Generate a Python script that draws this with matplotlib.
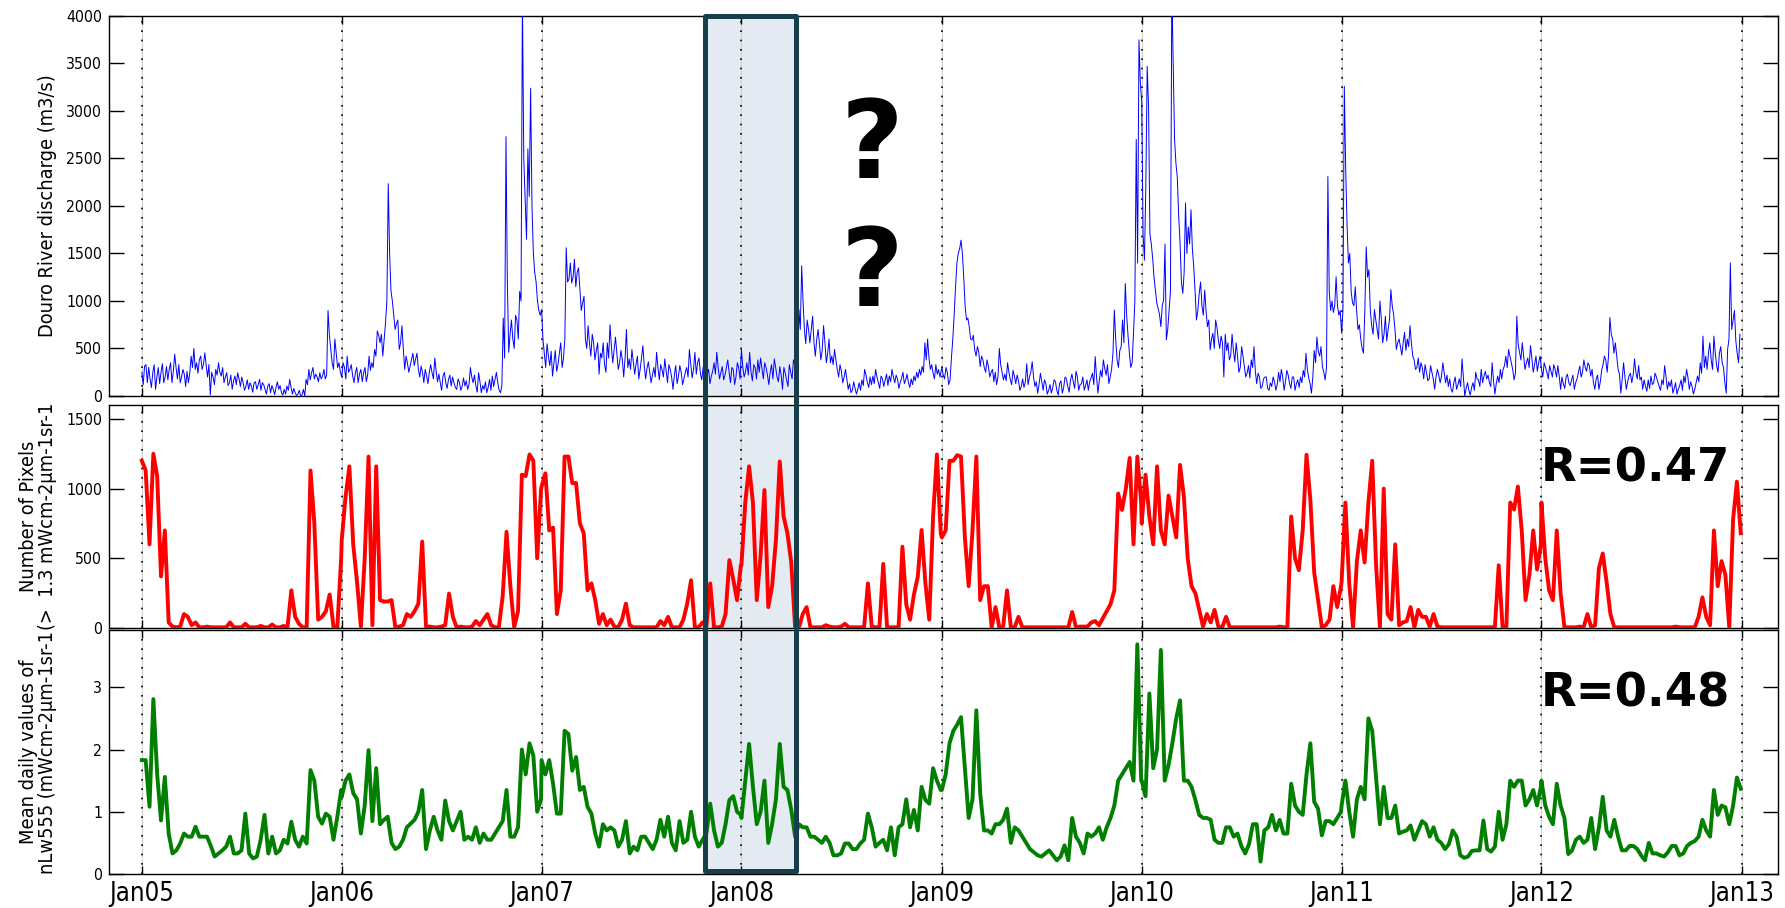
import matplotlib
matplotlib.use('Agg')
import matplotlib.pyplot as plt
import matplotlib.dates as mdates
from matplotlib import font_manager as fm
from matplotlib.patches import Rectangle
from matplotlib.transforms import blended_transform_factory
import numpy as np
import pandas as pd

# pick a narrow sans for the axis texts, if one is installed
entries = fm.fontManager.ttflist
names = {f.name for f in entries}
label_family, label_stretch, k = 'Liberation Sans', 'normal', 0.86
if 'Liberation Sans Narrow' in names:
    label_family, label_stretch, k = 'Liberation Sans Narrow', 'normal', 1.0
elif any(f.name == 'DejaVu Sans' and 'condensed' in str(f.stretch) for f in entries):
    label_family, label_stretch, k = 'DejaVu Sans', 'condensed', 0.84
elif 'DejaVu Sans Condensed' in names:
    label_family, label_stretch, k = 'DejaVu Sans Condensed', 'normal', 0.84
plt.rcParams['font.family'] = [label_family, 'DejaVu Sans']
plt.rcParams['font.stretch'] = label_stretch

years = [2005, 2006, 2007, 2008, 2009, 2010, 2011, 2012]

# Douro river discharge (m3/s), one value every 5 days starting each 1 Jan
q2005 = [250, 315, 140, 180, 250, 70, 300, 250, 140, 310, 280, 140, 440, 180, 140, 280, 100, 140, 420, 500,
         350, 380, 280, 455, 200, 10, 200, 280, 350, 210, 140, 245, 140, 70, 210, 245, 100, 140, 100, 70,
         105, 140, 70, 175, 140, 70, 105, 35, 70, 90, 70, 35, 70, 105, 175, 20, 35, 20, 0, 70,
         175, 280, 245, 180, 200, 245, 210, 180, 900, 490, 280, 455, 350]
q2006 = [200, 300, 420, 280, 210, 245, 140, 280, 245, 150, 420, 350, 490, 685, 560, 420, 770, 2235, 1105, 850,
         760, 490, 740, 280, 350, 315, 450, 390, 280, 315, 140, 210, 250, 245, 400, 150, 140, 210, 140, 175,
         105, 140, 70, 140, 105, 105, 70, 300, 140, 105, 245, 35, 70, 35, 175, 210, 175, 140, 35, 820,
         2730, 460, 800, 500, 800, 1100, 4200, 2070, 2600, 3240, 1500, 1200, 900]
q2007 = [910, 450, 550, 320, 210, 480, 330, 560, 400, 1560, 1230, 1190, 1440, 1300, 1120, 980, 600, 740,
         420, 560, 480, 230, 400, 330, 560, 750, 350, 620, 280, 480, 200, 700, 390, 490, 230, 420,
         280, 530, 180, 360, 140, 300, 460, 170, 280, 390, 140, 280, 70, 320, 210, 250, 180, 300,
         490, 190, 460, 350, 240, 300, 140, 280, 210, 350, 460, 180, 310, 220, 380, 140, 280, 200, 300]
q2008 = [490, 200, 350, 460, 160, 300, 380, 400, 180, 300, 120, 330, 390, 200, 310, 70, 240, 100,
         250, 380, 180, 910, 1370, 700, 800, 560, 840, 420, 700, 380, 740, 350, 600, 420, 490, 280,
         330, 140, 280, 70, 35, 150, 20, 140, 170, 280, 140, 200, 210, 280, 140, 210, 100, 230,
         210, 280, 140, 180, 140, 250, 170, 140, 180, 210, 250, 280, 310, 560, 600, 280, 240, 330, 280]
q2009 = [300, 180, 250, 170, 600, 1150, 1500, 1640, 1250, 800, 730, 590, 485, 520, 310, 380, 250, 310, 250, 150,
         120, 500, 250, 230, 350, 170, 270, 130, 160, 100, 90, 340, 200, 360, 100, 30, 240, 60, 130, 60,
         30, 170, 60, 130, 30, 200, 100, 170, 150, 260, 60, 130, 60, 170, 150, 240, 415, 30, 270, 380,
         220, 130, 280, 905, 380, 480, 800, 1185, 640, 300, 660, 2700, 3750]
q2010 = [3100, 1430, 3470, 1710, 1450, 1115, 920, 730, 1010, 590, 900, 4300, 2700, 2300, 1610, 1080, 2030, 1780,
         1960, 1360, 800, 1080, 950, 1115, 730, 485, 660, 800, 590, 630, 200, 480, 380, 650, 360, 420,
         300, 420, 200, 320, 380, 520, 130, 200, 100, 200, 80, 140, 200, 60, 250, 280, 60, 270,
         130, 200, 60, 170, 200, 270, 450, 190, 30, 480, 620, 420, 310, 170, 2310, 900, 880, 1255, 850]
q2011 = [660, 3260, 1800, 1500, 980, 1150, 700, 600, 450, 1570, 1330, 740, 910, 700, 1000, 560, 840, 700,
         1120, 860, 490, 600, 430, 670, 600, 740, 420, 280, 400, 350, 180, 250, 180, 250, 70, 280,
         140, 350, 140, 100, 70, 140, 70, 180, 390, 0, 140, 10, 140, 250, 170, 280, 210, 180,
         140, 350, 20, 210, 280, 280, 420, 490, 350, 170, 840, 460, 560, 280, 400, 530, 250, 420, 350]
q2012 = [280, 350, 250, 320, 200, 280, 320, 70, 130, 200, 140, 170, 70, 180, 315, 250, 300, 350,
         210, 140, 180, 70, 270, 420, 250, 825, 600, 560, 280, 30, 350, 70, 210, 140, 390, 180,
         170, 70, 100, 170, 210, 140, 200, 100, 170, 320, 70, 100, 30, 140, 70, 170, 210, 280,
         70, 100, 70, 210, 350, 630, 420, 450, 380, 630, 320, 450, 350, 140, 490, 1400, 800, 580, 350]

# discharge halfway between the values above (2.5 days later)
qm2005 = [120, 330, 300, 90, 330, 200, 130, 340, 200, 170, 350, 260, 300, 330, 200, 230, 260, 240, 300, 280,
          240, 420, 330, 320, 330, 250, 120, 220, 250, 300, 200, 110, 220, 160, 120, 180, 200, 60, 170, 140,
          40, 150, 120, 60, 120, 20, 130, 110, 15, 150, 110, 10, 20, 60, 90, 80, 5, 60, 10, 0,
          120, 170, 300, 230, 150, 180, 280, 220, 640, 350, 600, 300, 250]
qm2006 = [350, 180, 250, 330, 140, 300, 230, 150, 300, 230, 270, 300, 420, 640, 650, 600, 1000, 1500, 1000, 700,
          800, 560, 500, 420, 250, 380, 320, 450, 200, 250, 280, 130, 330, 180, 260, 230, 60, 250, 80, 220,
          200, 90, 180, 60, 190, 160, 120, 200, 220, 40, 150, 110, 150, 90, 60, 100, 250, 60, 110, 400,
          1200, 650, 600, 850, 600, 1000, 2500, 1650, 2100, 2000, 1300, 1000, 850]
qm2007 = [600, 300, 420, 470, 350, 260, 450, 300, 600, 1200, 1400, 1250, 1150, 1350, 900, 1050, 500, 560,
          650, 380, 560, 450, 560, 250, 400, 520, 480, 450, 350, 380, 400, 300, 280, 360, 330, 180,
          400, 320, 290, 250, 220, 200, 300, 330, 200, 260, 330, 200, 220, 130, 320, 120, 250, 200,
          330, 280, 230, 400, 170, 360, 230, 130, 260, 230, 300, 250, 170, 300, 250, 300, 120, 350, 180]
qm2008 = [300, 260, 220, 250, 330, 180, 250, 290, 350, 220, 250, 180, 300, 150, 220, 300, 170, 330,
          180, 330, 120, 700, 1000, 550, 700, 700, 560, 600, 550, 480, 560, 450, 350, 330, 380, 200,
          260, 200, 180, 130, 60, 80, 70, 60, 110, 220, 90, 120, 130, 200, 80, 180, 170, 110,
          150, 200, 220, 80, 190, 130, 230, 90, 120, 160, 190, 220, 250, 380, 400, 330, 180, 230, 200]
qm2009 = [220, 300, 120, 400, 850, 1400, 1550, 1500, 950, 820, 600, 640, 420, 460, 420, 300, 380, 200, 280, 250,
          200, 330, 170, 160, 250, 120, 210, 220, 60, 180, 150, 120, 250, 200, 150, 120, 150, 170, 20, 120,
          90, 150, 10, 160, 90, 180, 40, 230, 80, 200, 120, 200, 110, 60, 190, 120, 200, 160, 200, 290,
          330, 200, 450, 600, 300, 520, 560, 850, 450, 350, 1000, 1400, 3300]
qm2010 = [1700, 2200, 3050, 1600, 1250, 980, 860, 950, 1600, 700, 1100, 3500, 2450, 1900, 1200, 1300, 1500, 1600,
          1550, 1100, 900, 1200, 850, 900, 800, 600, 500, 720, 500, 560, 650, 560, 420, 480, 560, 250,
          520, 310, 240, 190, 300, 260, 240, 80, 180, 200, 60, 100, 150, 120, 150, 200, 150, 220,
          80, 200, 130, 90, 140, 200, 280, 130, 200, 350, 470, 520, 250, 300, 1100, 1000, 950, 950, 900]
qm2011 = [900, 2400, 1400, 1100, 950, 900, 750, 500, 900, 1250, 900, 650, 800, 600, 820, 650, 580, 800,
          950, 700, 560, 520, 560, 480, 520, 560, 380, 300, 250, 300, 330, 160, 320, 180, 200, 220,
          210, 240, 220, 180, 40, 200, 120, 100, 200, 80, 60, 90, 60, 180, 100, 140, 260, 220,
          100, 160, 130, 140, 180, 320, 300, 420, 280, 240, 550, 380, 420, 350, 300, 400, 330, 260, 420]
qm2012 = [200, 300, 180, 260, 330, 200, 210, 200, 80, 230, 110, 220, 140, 250, 200, 380, 260, 320,
          280, 70, 220, 150, 330, 380, 420, 650, 450, 420, 230, 180, 200, 150, 240, 220, 250, 320,
          200, 170, 50, 80, 120, 240, 150, 60, 120, 200, 150, 170, 80, 20, 110, 60, 140, 200,
          150, 20, 140, 150, 240, 300, 280, 560, 280, 450, 250, 520, 300, 30, 600, 700, 900, 450, 650]

# number of pixels above 1.3 mW cm-2 um-1 sr-1, weekly from 1 Jan
px2005 = [1200, 1130, 600, 1250, 1090, 370, 700, 40, 10, 5, 10, 100, 80, 20, 40, 5, 5, 10, 5, 5,
          5, 5, 5, 40, 5, 5, 5, 30, 5, 5, 5, 15, 5, 5, 25, 5, 5, 15, 5, 270,
          80, 30, 5, 5, 1130, 750, 60, 80, 120, 240, 10, 5, 500]
px2006 = [630, 940, 1160, 600, 330, 10, 500, 1230, 20, 1160, 200, 190, 190, 200, 5, 10, 20, 100, 80, 120,
          175, 620, 10, 10, 5, 5, 10, 20, 247, 80, 5, 10, 5, 5, 10, 50, 20, 60, 100, 20,
          5, 5, 230, 690, 300, 5, 120, 1100, 1090, 1245, 1200, 500, 990]
px2007 = [1015, 1110, 700, 720, 100, 270, 1230, 1230, 1040, 1040, 750, 680, 270, 320, 200, 30, 100, 20, 60, 10,
          5, 60, 175, 20, 5, 5, 5, 5, 5, 5, 5, 50, 20, 80, 5, 5, 5, 60, 175, 343,
          5, 5, 40, 10, 320, 5, 5, 10, 100, 487, 350, 200, 450]
px2008 = [450, 900, 1160, 900, 200, 520, 990, 150, 300, 630, 1195, 800, 680, 470, 5, 5, 100, 150, 5, 5,
          5, 5, 20, 10, 5, 5, 10, 30, 5, 5, 5, 5, 5, 320, 10, 5, 5, 460, 5, 5,
          5, 5, 583, 170, 60, 240, 367, 703, 320, 60, 800, 1245, 680]
px2009 = [650, 700, 1200, 1200, 1240, 1230, 655, 300, 700, 1230, 200, 300, 300, 5, 150, 5, 10, 270, 5, 5,
          80, 5, 5, 5, 5, 5, 5, 5, 5, 5, 5, 5, 5, 5, 115, 5, 10, 10, 10, 40,
          50, 20, 70, 120, 170, 270, 965, 847, 1000, 1220, 600, 1230, 900]
px2010 = [750, 1100, 800, 600, 1160, 700, 600, 950, 800, 650, 1170, 943, 500, 300, 250, 130, 10, 100, 40, 130,
          10, 5, 80, 5, 5, 5, 5, 5, 5, 5, 5, 5, 5, 5, 5, 5, 10, 5, 5, 800,
          500, 415, 700, 1243, 919, 400, 200, 5, 20, 60, 300, 150, 300]
px2011 = [330, 900, 320, 5, 480, 700, 470, 900, 1200, 450, 5, 1000, 100, 60, 600, 20, 40, 50, 150, 5,
          130, 80, 80, 10, 100, 10, 5, 5, 5, 5, 5, 5, 5, 5, 5, 5, 5, 5, 5, 5,
          5, 450, 5, 10, 900, 850, 1015, 700, 200, 380, 700, 420, 600]
px2012 = [900, 500, 270, 200, 700, 250, 5, 5, 5, 5, 10, 5, 100, 5, 20, 430, 535, 330, 100, 5,
          5, 5, 5, 5, 5, 5, 5, 5, 5, 5, 5, 5, 5, 5, 5, 10, 5, 5, 5, 5,
          5, 80, 220, 80, 20, 700, 300, 480, 380, 5, 780, 1050, 680]

# mean daily nLw555, weekly from 1 Jan
nlw2005 = [1.83, 1.83, 1.08, 2.81, 1.6, 0.86, 1.56, 0.65, 0.33, 0.38, 0.49, 0.65, 0.6, 0.6, 0.76, 0.6, 0.6, 0.6,
           0.45, 0.28, 0.33, 0.38, 0.44, 0.6, 0.33, 0.33, 0.38, 0.97, 0.33, 0.25, 0.28, 0.55, 0.95, 0.33, 0.6,
           0.33, 0.38, 0.55, 0.49, 0.84, 0.55, 0.44, 0.6, 0.49, 1.67, 1.5, 0.92, 0.81, 0.97, 0.92, 0.55, 0.92, 1.35]
nlw2006 = [1.24, 1.5, 1.6, 1.3, 1.2, 0.65, 1.1, 1.99, 0.85, 1.7, 0.8, 0.87, 0.92, 0.5, 0.4, 0.44, 0.55, 0.75,
           0.81, 0.87, 1.0, 1.35, 0.4, 0.7, 0.92, 0.7, 0.55, 1.18, 0.85, 0.7, 0.85, 1.0, 0.55, 0.6, 0.55,
           0.75, 0.5, 0.65, 0.55, 0.55, 0.65, 0.75, 0.85, 1.35, 0.6, 0.6, 0.75, 2.0, 1.6, 2.1, 1.9, 1.0, 1.2]
nlw2007 = [1.83, 1.6, 1.83, 1.45, 0.97, 0.97, 2.3, 2.25, 1.66, 1.88, 1.35, 1.4, 1.08, 0.97, 0.65, 0.44, 0.8, 0.7,
           0.75, 0.7, 0.44, 0.55, 0.85, 0.33, 0.44, 0.38, 0.6, 0.6, 0.5, 0.4, 0.55, 0.87, 0.6, 0.92, 0.5,
           0.38, 0.85, 0.5, 0.55, 1.0, 0.6, 0.44, 0.55, 0.65, 1.13, 0.7, 0.44, 0.5, 0.8, 1.19, 1.25, 1.0, 0.95]
nlw2008 = [0.9, 1.5, 2.09, 1.4, 0.8, 1.0, 1.5, 0.5, 0.8, 1.2, 2.09, 1.4, 1.35, 1.03, 0.6, 0.8, 0.75, 0.75,
           0.6, 0.6, 0.55, 0.5, 0.6, 0.5, 0.3, 0.3, 0.33, 0.49, 0.49, 0.4, 0.4, 0.49, 0.55, 0.97, 0.75,
           0.44, 0.5, 0.55, 0.38, 0.75, 0.3, 0.75, 0.8, 1.2, 0.75, 1.03, 0.7, 1.4, 1.19, 1.13, 1.7, 1.5, 1.35]
nlw2009 = [1.35, 1.6, 2.1, 2.3, 2.4, 2.52, 1.7, 0.9, 1.2, 2.63, 1.3, 0.7, 0.7, 0.65, 0.8, 0.8, 0.87, 1.05,
           0.5, 0.75, 0.7, 0.6, 0.5, 0.4, 0.35, 0.3, 0.28, 0.33, 0.38, 0.3, 0.22, 0.28, 0.46, 0.22, 0.9,
           0.6, 0.5, 0.33, 0.65, 0.6, 0.65, 0.75, 0.55, 0.75, 0.9, 1.1, 1.5, 1.6, 1.7, 1.8, 1.5, 3.69, 1.5]
nlw2010 = [1.5, 1.25, 2.9, 1.7, 2.0, 3.6, 1.5, 1.75, 2.1, 2.5, 2.79, 1.5, 1.5, 1.4, 1.19, 0.95, 0.9, 0.9,
           0.87, 0.55, 0.5, 0.5, 0.75, 0.75, 0.6, 0.65, 0.45, 0.33, 0.48, 0.8, 0.8, 0.2, 0.7, 0.75, 0.95,
           0.7, 0.87, 0.65, 0.65, 1.45, 1.1, 1.0, 0.95, 1.6, 2.1, 1.16, 1.05, 0.62, 0.85, 0.85, 0.8, 0.9, 1.0]
nlw2011 = [1.1, 1.5, 1.0, 0.6, 1.2, 1.4, 1.2, 2.5, 2.3, 1.55, 0.8, 1.4, 0.9, 0.9, 1.1, 0.65, 0.68, 0.7,
           0.78, 0.55, 0.7, 0.85, 0.8, 0.6, 0.75, 0.55, 0.5, 0.4, 0.48, 0.7, 0.6, 0.3, 0.26, 0.28, 0.37,
           0.38, 0.38, 0.86, 0.4, 0.36, 0.44, 1.0, 0.55, 0.8, 1.5, 1.4, 1.5, 1.5, 1.1, 1.2, 1.35, 1.1, 1.4]
nlw2012 = [1.5, 1.1, 0.92, 0.8, 1.45, 1.1, 0.9, 0.32, 0.38, 0.55, 0.6, 0.5, 0.55, 0.9, 0.4, 0.75, 1.24, 0.7,
           0.6, 0.87, 0.6, 0.38, 0.38, 0.45, 0.45, 0.4, 0.3, 0.22, 0.5, 0.33, 0.33, 0.3, 0.28, 0.35, 0.45,
           0.45, 0.3, 0.33, 0.45, 0.5, 0.53, 0.6, 0.87, 0.7, 0.6, 1.35, 0.95, 1.1, 1.07, 0.8, 1.1, 1.55, 1.37]

q_years = [q2005, q2006, q2007, q2008, q2009, q2010, q2011, q2012]
qm_years = [qm2005, qm2006, qm2007, qm2008, qm2009, qm2010, qm2011, qm2012]
px_years = [px2005, px2006, px2007, px2008, px2009, px2010, px2011, px2012]
nlw_years = [nlw2005, nlw2006, nlw2007, nlw2008, nlw2009, nlw2010, nlw2011, nlw2012]

# highlighted winter 2007/08
box_start = pd.Timestamp('2007-10-27')
box_end = pd.Timestamp('2008-04-09')


def join_years(lists, step, start='01-01'):
    d = [pd.date_range(f'{yr}-{start}', periods=len(v), freq=step) for yr, v in zip(years, lists)]
    dates = np.concatenate([x.values for x in d])
    vals = np.concatenate([np.asarray(v, dtype=float) for v in lists])
    return dates, vals


qa_dates, qa_vals = join_years(q_years, '5D')
qb_dates, qb_vals = join_years(qm_years, '5D', start='01-03 12:00')
q_dates = np.concatenate([qa_dates, qb_dates])
q_vals = np.concatenate([qa_vals, qb_vals])
order = np.argsort(q_dates)
q_dates, q_vals = pd.DatetimeIndex(q_dates[order]), q_vals[order]

px_dates, px_vals = join_years(px_years, '7D')
nlw_dates, nlw_vals = join_years(nlw_years, '7D')
px_dates, nlw_dates = pd.DatetimeIndex(px_dates), pd.DatetimeIndex(nlw_dates)

fig = plt.figure(figsize=(17.85, 9.08), dpi=100)
ax1 = fig.add_axes([0.06106, 0.56388, 0.93501, 0.41850])
ax2 = fig.add_axes([0.06106, 0.30837, 0.93501, 0.24559])
ax3 = fig.add_axes([0.06106, 0.03744, 0.93501, 0.26872])

ax1.plot(q_dates, q_vals, color='#0000ff', lw=0.7, zorder=3)
ax2.plot(px_dates, px_vals, color='#ff0000', lw=2.8, zorder=3)
ax3.plot(nlw_dates, nlw_vals, color='#007f00', lw=2.8, zorder=3)

ax1.set_ylim(0, 4000)
ax1.set_yticks(np.arange(0, 4001, 500))
ax2.set_ylim(0, 1600)
ax2.set_yticks([0, 500, 1000, 1500])
ax3.set_ylim(0, 3.92)
ax3.set_yticks([0, 1, 2, 3])

xmin, xmax = pd.Timestamp('2004-11-02'), pd.Timestamp('2013-03-08')
jan_ticks = [pd.Timestamp(f'{y}-01-01') for y in range(2005, 2014)]

for ax in (ax1, ax2, ax3):
    ax.set_xlim(xmin, xmax)
    ax.set_xticks(jan_ticks)
    ax.xaxis.set_major_formatter(mdates.DateFormatter('Jan%y'))
    ax.axvspan(box_start, box_end, color='#e4eaf2', zorder=0)
    for t in jan_ticks:
        ax.axvline(t, color='#cfcfcf', lw=0.8, zorder=1)
        ax.axvline(t, color='black', lw=1.2, ls=(0, (1, 4.6)), zorder=1.5)
    ax.tick_params(axis='y', direction='in', length=11, width=1, left=True, right=True,
                   labelsize=13.5 * k, pad=5)
    ax.tick_params(axis='x', direction='in', length=6, width=1, top=True, bottom=True)
    for s in ax.spines.values():
        s.set_linewidth(1.0)

ax1.tick_params(axis='x', labelbottom=False)
ax2.tick_params(axis='x', labelbottom=False)
ax3.tick_params(axis='x', labelsize=22 * k, pad=5)

ax1.set_ylabel('Douro River discharge (m3/s)', fontsize=17 * k)
ax2.set_ylabel('Number of Pixels\n(>  1.3 mWcm-2\u00b5m-1sr-1', fontsize=17 * k, linespacing=1.05)
ax3.set_ylabel('Mean daily values of\nnLw555 (mWcm-2\u00b5m-1sr-1', fontsize=17 * k, linespacing=1.05)
for ax in (ax1, ax2, ax3):
    ax.yaxis.set_label_coords(-0.031, 0.5)

# question marks and correlation labels
qfont = dict(family='DejaVu Sans', weight='bold', stretch='normal', color='black')
ax1.text(0.457, 0.5737, '?', transform=ax1.transAxes, ha='center', va='baseline', fontsize=78, **qfont)
ax1.text(0.457, 0.2368, '?', transform=ax1.transAxes, ha='center', va='baseline', fontsize=78, **qfont)
ax2.text(0.9713, 0.656, 'R=0.47', transform=ax2.transAxes, ha='right', va='baseline', fontsize=33.5, **qfont)
ax3.text(0.9713, 0.686, 'R=0.48', transform=ax3.transAxes, ha='right', va='baseline', fontsize=33.5, **qfont)

# outline of the highlighted period across all three panels
trans = blended_transform_factory(ax3.transData, fig.transFigure)
x0 = mdates.date2num(box_start)
x1 = mdates.date2num(box_end)
box = Rectangle((x0, 0.0407), x1 - x0, 0.9824 - 0.0407, transform=trans, fill=False,
                edgecolor='#163f4b', lw=3.6, joinstyle='round', clip_on=False, zorder=10)
fig.add_artist(box)

fig.savefig('out.png', dpi=100)
